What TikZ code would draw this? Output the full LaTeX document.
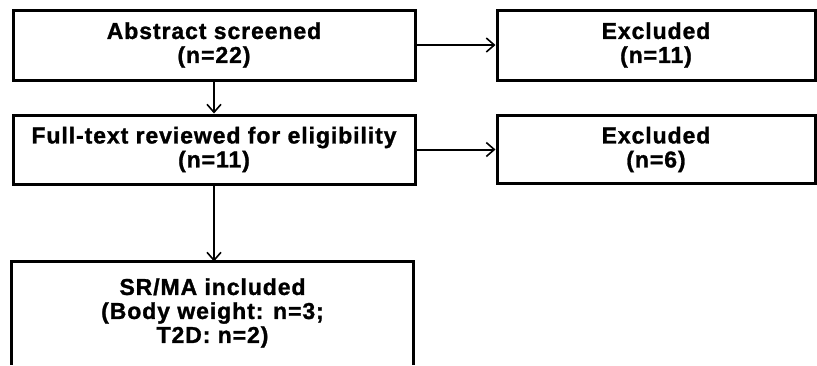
\documentclass[tikz,border=0pt]{standalone}
\usepackage{fontspec}
\setmainfont{Liberation Sans}
\newfontfamily\boxfont{Liberation Sans Bold}[LetterSpace=4,FakeBold=1.2]
\usetikzlibrary{arrows.meta}
\begin{document}
\begin{tikzpicture}[x=1pt,y=-1pt,
  box/.style={draw, line width=3pt, align=center, inner sep=0pt,
    font=\boxfont\fontsize{23}{24}\selectfont},
  arr/.style={line width=2pt, -{Straight Barb[length=8pt,width=14pt,line width=1.6pt]}}]
\useasboundingbox[fill=white] (0,0) rectangle (817,365);
\node[box, minimum width=402pt, minimum height=70pt] (A) at (214,45) {Abstract screened\\(n=22)};
\node[box, minimum width=318pt, minimum height=70pt] (E1) at (656,45) {Excluded\\(n=11)};
\node[box, minimum width=402pt, minimum height=69pt] (B) at (214,149.5) {Full-text reviewed for eligibility\\(n=11)};
\node[box, minimum width=318pt, minimum height=68pt] (E2) at (656,149.5) {Excluded\\(n=6)};
\node[box, draw=none, minimum width=399pt, minimum height=100pt] (C) at (212.5,313) {SR/MA included\\(Body weight: n=3;\\T2D: n=2)};
\draw[line width=3pt] (C.south west) -- (C.north west) -- (C.north east) -- (C.south east);
\draw[arr] (A.south) -- (A.south |- B.north);
\draw[arr] (B.south) -- (B.south |- C.north);
\draw[arr] (A.east) -- (A.east -| E1.west);
\draw[arr] (B.east) -- (B.east -| E2.west);
\end{tikzpicture}
\end{document}
